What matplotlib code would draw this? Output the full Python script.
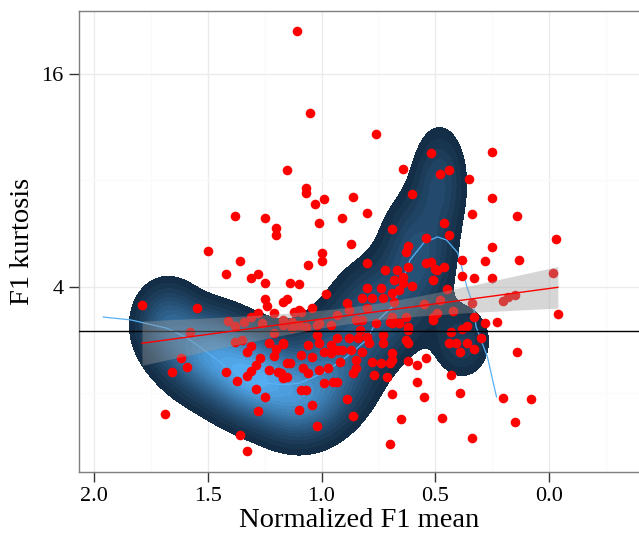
import numpy as np
import matplotlib
matplotlib.use("Agg")
import matplotlib.pyplot as plt
from matplotlib.colors import LinearSegmentedColormap
from matplotlib.ticker import FixedLocator, NullFormatter

plt.rcParams["font.family"] = ["Liberation Serif", "DejaVu Serif"]

# red points: normalized F1 mean vs F1 kurtosis
f1_mean = [
    1.11, 1.05, 1.15, 1.07, 1.07, 1.03, 1.01, 1.38, 1.25, 1.20, 1.20, 1.50, 1.36, 1.06,
    0.76, 0.52, 0.25, 0.64, 0.48, 0.44, 0.35, 0.99, 0.86, 0.91, 0.80, 0.60, 0.25, 0.34,
    0.14, 0.46, 0.69, 0.44, 0.54, 0.87, 0.25, -0.03, 0.63, 0.62, 0.80, 0.52, 0.38, 0.28,
    0.13, 1.00, 1.00, 1.42, 1.31, 1.28, 1.25, -0.02, 0.50, 0.46, 0.72, 0.67, 0.62, 1.14,
    1.10, 0.51, 0.38, 0.33, 0.25, 0.45, 0.64, 0.60, 0.55, 0.48, 0.42, 0.34, 0.20, 0.18,
    0.15, 0.33, 0.28, 0.23, 0.51, 0.49, 0.43, 0.62, 0.38, 0.36, 0.30, 0.63, 0.62, 0.44,
    0.41, 0.36, 0.33, 0.39, 0.14, 0.69, 0.69, 0.62, 0.54, 0.58, 0.43, 0.58, 0.69, 0.55,
    0.39, 0.20, 0.08, 0.65, 0.47, 0.15, 0.34, 0.70, 0.86, 0.89, -0.04,
    1.79, 1.55, 1.58, 1.62, 1.59, 1.66, 1.69, 1.36, 1.33, 1.25, 1.24, 1.17, 1.15, 1.21,
    1.28, 1.41, 1.38, 1.34, 1.31, 1.26, 1.17, 1.13, 1.10, 1.42, 1.37, 1.33, 1.31, 1.29,
    1.27, 1.29, 1.25, 1.28, 1.38, 1.35, 1.31, 1.33, 1.23, 1.20, 1.17, 1.23, 1.19, 1.17,
    1.15, 1.21, 1.21, 1.10, 1.04, 1.02, 1.08, 1.09,
    1.13, 1.07, 1.02, 0.96, 1.17, 1.06, 1.02, 1.01, 0.96, 0.93, 0.88, 0.83, 0.84, 0.80,
    0.79, 0.73, 0.73, 0.99, 0.96, 0.93, 0.91, 0.87, 0.82, 1.09, 1.04, 1.14, 0.92, 0.85,
    0.85, 0.78, 0.74, 0.70, 1.06, 1.01, 0.97, 0.86, 0.77, 0.71, 1.18, 1.15, 0.99, 0.95,
    0.93, 1.07,
    0.80, 0.74, 0.82, 0.78, 0.73, 0.69, 0.68, 0.89, 0.88, 0.80, 0.98, 1.04, 1.12, 1.09,
    0.93, 0.85, 0.82, 0.76, 0.69, 1.01, 1.10, 1.17,
    0.66, 0.64, 0.68, 0.63, 0.69, 0.66, 0.62, 0.54, 0.49, 0.70, 0.66, 0.51,
]
f1_kurt = [
    21.1, 12.4, 8.56, 7.61, 7.37, 6.86, 6.06, 6.34, 6.26, 5.86, 5.60, 5.05, 4.73, 4.61,
    10.8, 9.57, 9.63, 8.61, 8.34, 8.56, 8.07, 7.09, 7.18, 6.26, 6.47, 7.32, 7.13, 6.43,
    6.34, 6.06, 5.83, 5.60, 5.50, 5.29, 5.18, 5.46, 5.02, 5.22, 4.67, 4.70, 4.76, 4.73,
    4.76, 4.98, 4.73, 4.35, 4.23, 4.35, 4.10, 4.37, 4.49, 4.55, 4.46, 4.46, 4.55, 4.10,
    4.07, 4.18, 4.29, 4.23, 4.23, 3.94, 4.10, 4.02, 3.57, 3.67, 3.41, 3.60, 3.64, 3.74,
    3.79, 3.28, 3.16, 3.18, 3.28, 3.37, 2.98, 3.02, 3.04, 3.10, 2.86, 2.83, 2.77, 2.77,
    2.77, 2.77, 2.66, 2.61, 2.61, 2.60, 2.48, 2.46, 2.51, 2.40, 2.25, 2.15, 1.99, 1.95,
    2.00, 1.94, 1.92, 1.69, 1.70, 1.65, 1.49, 1.43, 1.72, 1.92, 3.35,
    3.55, 3.48, 2.98, 2.51, 2.37, 2.29, 1.74, 1.52, 1.37, 3.69, 3.53, 3.62, 3.69, 3.37,
    3.37, 3.20, 3.10, 3.18, 3.28, 3.16, 3.12, 3.18, 3.44, 2.29, 2.16, 2.23, 2.31, 2.40,
    2.51, 2.05, 1.95, 1.78, 2.79, 2.83, 2.72, 2.61, 2.77, 2.66, 2.75, 2.32, 2.29, 2.21,
    2.43, 2.55, 2.96, 1.79, 1.85, 1.61, 2.35, 2.04,
    3.05, 3.08, 3.12, 3.12, 2.77, 2.74, 2.92, 2.77, 2.74, 2.86, 2.86, 3.02, 2.86, 2.88,
    2.77, 2.92, 2.77, 2.61, 2.60, 2.65, 2.65, 2.65, 2.61, 2.56, 2.53, 2.43, 2.45, 2.48,
    2.35, 2.45, 2.43, 2.43, 2.28, 2.32, 2.35, 2.28, 2.25, 2.22, 2.28, 2.22, 2.14, 2.15,
    2.15, 2.04,
    3.97, 3.97, 3.72, 3.72, 3.72, 3.84, 4.18, 3.60, 3.44, 3.48, 3.81, 3.48, 3.39, 3.39,
    3.33, 3.22, 3.22, 3.16, 3.16, 3.16, 3.12, 3.22,
    3.91, 4.26, 3.62, 3.28, 3.28, 3.16, 3.08, 4.67, 4.46, 3.18, 3.16, 3.22,
]

# loess trend of the background set
trend_x = [1.96, 1.84, 1.68, 1.59, 1.50, 1.40, 1.30, 1.17, 1.10, 0.99, 0.89, 0.80, 0.76,
           0.69, 0.66, 0.61, 0.55, 0.49, 0.45, 0.40, 0.38, 0.36, 0.33, 0.32, 0.27, 0.23]
trend_y = [3.28, 3.22, 3.05, 2.86, 2.60, 2.32, 2.15, 2.11, 2.13, 2.28, 2.53, 2.83, 3.18,
           3.50, 3.91, 4.76, 5.32, 5.53, 5.42, 4.98, 4.46, 3.99, 3.50, 3.08, 2.53, 1.95]

# density of the background set, as gaussian blobs in (x, log2 y)
blob_x = [1.68, 1.50, 1.30, 1.10, 0.95, 0.76, 0.58, 0.48, 0.38]
blob_l = [1.66, 1.38, 1.15, 0.92, 1.25, 1.75, 2.30, 3.00, 1.48]
blob_sx = [0.09, 0.12, 0.12, 0.12, 0.12, 0.12, 0.10, 0.075, 0.08]
blob_sl = [0.24, 0.25, 0.25, 0.25, 0.30, 0.30, 0.35, 0.32, 0.22]
blob_w = [0.50, 0.85, 1.00, 0.70, 0.55, 0.45, 0.42, 0.33, 0.28]

ref_level = 3.0

fig = plt.figure(figsize=(6.39, 5.35), dpi=100)
ax = fig.add_axes([79 / 639, 63 / 535, 1 - 79 / 639, (472 - 11) / 535])
ax.set_yscale("log", base=2)

# density field
gx = np.linspace(-0.45, 2.15, 400)
gl = np.linspace(0.0, 4.8, 400)
X, L = np.meshgrid(gx, gl)
Z = np.zeros_like(X)
for bx, bl, sx, sl, w in zip(blob_x, blob_l, blob_sx, blob_sl, blob_w):
    Z += w * np.exp(-0.5 * (((X - bx) / sx) ** 2 + ((L - bl) / sl) ** 2))
Z /= Z.max()
levels = np.linspace(0.08, 1.0, 20)
cmap = LinearSegmentedColormap.from_list("gg", ["#132B43", "#56B1F7"])
ax.contourf(X, 2 ** L, Z, levels=list(levels) + [1.01], cmap=cmap, zorder=1)

ax.plot(trend_x, trend_y, color="#56B1F7", lw=0.9, zorder=2)
ax.scatter(f1_mean, f1_kurt, s=48, color="#FF0000", linewidths=0, zorder=3)
ax.axhline(ref_level, color="black", lw=1.0, zorder=4)

# linear fit in log space with 95% band
xs = np.array(f1_mean)
ls = np.log2(np.array(f1_kurt))
n = len(xs)
b, a = np.polyfit(xs, ls, 1)
resid = ls - (a + b * xs)
s = np.sqrt(np.sum(resid ** 2) / (n - 2))
xm = xs.mean()
sxx = np.sum((xs - xm) ** 2)
fx = np.linspace(xs.min(), xs.max(), 100)
fl = a + b * fx
se = s * np.sqrt(1 / n + (fx - xm) ** 2 / sxx)
ax.fill_between(fx, 2 ** (fl - 1.97 * se), 2 ** (fl + 1.97 * se), color="#999999",
                alpha=0.4, lw=0, zorder=5)
ax.plot(fx, 2 ** fl, color="#FF0000", lw=1.0, zorder=6)

ax.set_xlim(2.067, -0.397)
ax.set_ylim(1.195, 24.1)
ax.xaxis.set_major_locator(FixedLocator([2.0, 1.5, 1.0, 0.5, 0.0]))
ax.xaxis.set_minor_locator(FixedLocator([1.75, 1.25, 0.75, 0.25, -0.25]))
ax.set_xticklabels(["2.0", "1.5", "1.0", "0.5", "0.0"])
ax.yaxis.set_major_locator(FixedLocator([4, 16]))
ax.yaxis.set_minor_locator(FixedLocator([2, 8]))
ax.set_yticklabels(["4", "16"])
ax.yaxis.set_minor_formatter(NullFormatter())
ax.grid(which="major", color="#ebebeb", lw=1.0, zorder=0)
ax.grid(which="minor", color="#fafafa", lw=1.0, zorder=0)
ax.set_axisbelow(True)
ax.tick_params(which="major", length=7, width=1.0, color="#333333", labelsize=16,
               pad=4)
ax.tick_params(which="minor", length=0)
for side in ["left", "top", "bottom"]:
    ax.spines[side].set_color("#7f7f7f")
    ax.spines[side].set_linewidth(1.0)
ax.spines["right"].set_visible(False)

ax.set_xlabel("Normalized F1 mean", fontsize=20.5, labelpad=1)
ax.set_ylabel("F1 kurtosis", fontsize=20.5, labelpad=5)

fig.savefig("out.png", dpi=100)
